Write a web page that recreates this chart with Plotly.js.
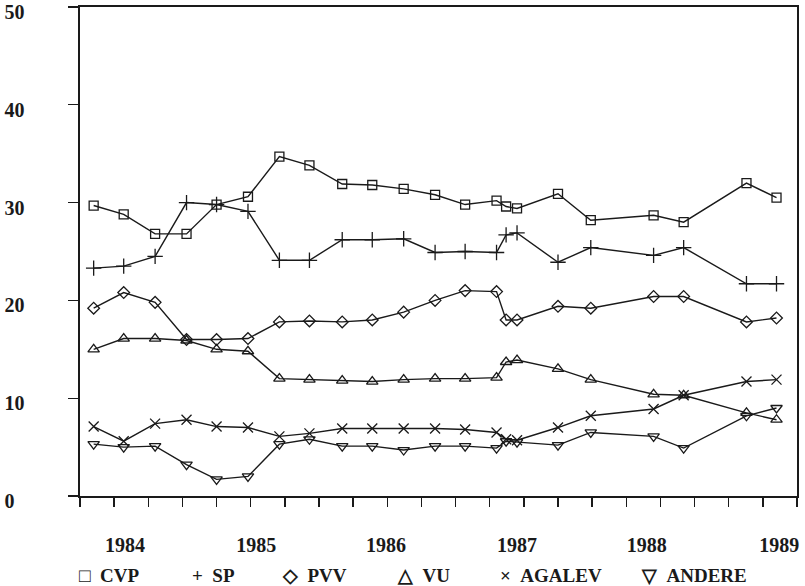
<!DOCTYPE html>
<html>
<head>
<meta charset="utf-8">
<script src="https://cdn.plot.ly/plotly-3.0.1.min.js"></script>
<style>html,body{margin:0;padding:0;background:#fff;}#chart{width:805px;height:586px;}</style>
</head>
<body>
<div id="chart"></div>
<script>
// survey dates (decimal years)
const surveyDates = [1984.10, 1984.32, 1984.55, 1984.78, 1985.00, 1985.23, 1985.46, 1985.68, 1985.92, 1986.14, 1986.37, 1986.60, 1986.82, 1987.05, 1987.12, 1987.20, 1987.50, 1987.74, 1988.20, 1988.42, 1988.88, 1989.10];

const partyNames = ["CVP", "SP", "PVV", "VU", "AGALEV", "ANDERE"];
const legendGlyphs = ["\u25A1", "+", "\u25C7", "\u25B3", "\u00D7", "\u25BD"];

const cvp    = [29.7, 28.8, 26.8, 26.8, 29.8, 30.6, 34.7, 33.8, 31.9, 31.8, 31.4, 30.8, 29.8, 30.2, 29.6, 29.4, 30.9, 28.2, 28.7, 28.0, 32.0, 30.5];
const sp     = [23.3, 23.5, 24.5, 30.0, 29.8, 29.1, 24.1, 24.1, 26.2, 26.2, 26.3, 24.9, 25.0, 24.9, 26.7, 26.9, 23.9, 25.4, 24.6, 25.4, 21.7, 21.7];
const pvv    = [19.2, 20.8, 19.8, 16.0, 16.0, 16.1, 17.8, 17.9, 17.8, 18.0, 18.8, 20.0, 21.0, 20.9, 18.0, 18.0, 19.4, 19.2, 20.4, 20.4, 17.8, 18.2];
const vu     = [15.0, 16.1, 16.1, 15.9, 15.0, 14.8, 12.0, 11.9, 11.8, 11.7, 11.9, 12.0, 12.0, 12.1, 13.7, 13.9, 13.0, 11.9, 10.4, 10.3, 8.5, 7.8];
const agalev = [7.1, 5.6, 7.4, 7.8, 7.1, 7.0, 6.1, 6.4, 6.9, 6.9, 6.9, 6.9, 6.8, 6.5, 5.8, 5.7, 7.0, 8.2, 8.9, 10.3, 11.7, 11.9];
const andere = [5.3, 5.0, 5.1, 3.2, 1.7, 2.0, 5.3, 5.8, 5.1, 5.1, 4.7, 5.1, 5.1, 4.9, 5.6, 5.5, 5.2, 6.5, 6.1, 4.9, 8.2, 9.0];

const yearLabels = ["1984", "1985", "1986", "1987", "1988", "1989"];
const yearLabelPos = [1984.33, 1985.29, 1986.24, 1987.20, 1988.15, 1989.12];
const yTickVals = [0, 10, 20, 30, 40, 50];

const seriesValues = [cvp, sp, pvv, vu, agalev, andere];
const markerSymbols = ["square-open", "cross-thin-open", "diamond-open", "triangle-up-open", "x-thin-open", "triangle-down-open"];
const markerSizes = [9, 11, 9, 10, 10, 10];

const ink = "#1a1a1a";
const serif = "Liberation Serif, Times New Roman, serif";

const traces = seriesValues.map((vals, i) => ({
  type: "scatter",
  mode: "lines+markers",
  name: partyNames[i],
  x: surveyDates,
  y: vals,
  line: {color: ink, width: 1.4},
  marker: {symbol: markerSymbols[i], size: markerSizes[i], color: ink, line: {color: ink, width: 1.3}},
  showlegend: false,
  xaxis: "x",
  yaxis: "y"
}));

// empty carrier trace so the year-label axis is drawn
traces.push({
  type: "scatter", mode: "none",
  x: yearLabelPos, y: yearLabelPos.map(() => null),
  xaxis: "x2", yaxis: "y", showlegend: false, hoverinfo: "skip"
});

const legendX = [-0.004, 0.153, 0.279, 0.439, 0.583, 0.780];
const annotations = partyNames.map((n, i) => ({
  xref: "paper", yref: "paper",
  x: legendX[i], y: -0.1616,
  xanchor: "left", yanchor: "middle",
  text: legendGlyphs[i] + "\u00a0\u00a0" + n,
  showarrow: false,
  font: {family: serif, size: 19, color: ink, weight: "bold"}
}));

const layout = {
  width: 805, height: 586,
  margin: {l: 80, r: 8, t: 7, b: 90},
  paper_bgcolor: "#fff", plot_bgcolor: "#fff",
  showlegend: false,
  xaxis: {
    range: [1984, 1989.25], tick0: 1984, dtick: 0.25,
    ticks: "outside", ticklen: 9, tickwidth: 1.3, tickcolor: ink,
    showticklabels: false, showline: true, linewidth: 1.6, linecolor: ink,
    mirror: true, showgrid: false, zeroline: false
  },
  xaxis2: {
    overlaying: "x", anchor: "y", side: "bottom",
    range: [1984, 1989.25],
    tickmode: "array", tickvals: yearLabelPos, ticktext: yearLabels,
    ticks: "", ticklabelstandoff: 35, ticklabeloverflow: "allow",
    showline: false, showgrid: false, zeroline: false,
    tickfont: {family: serif, size: 20, color: ink, weight: "bold"}
  },
  yaxis: {
    range: [0, 50],
    tickmode: "array", tickvals: yTickVals,
    ticktext: yTickVals.map(v => v === 0 ? "0\u00a0\u00a0" : String(v)),
    ticks: "outside", ticklen: 10, tickwidth: 1.3, tickcolor: ink,
    ticklabelstandoff: 40, ticklabelshift: 5, ticklabeloverflow: "allow",
    showline: true, linewidth: 1.6, linecolor: ink,
    mirror: true, showgrid: false, zeroline: false,
    automargin: false,
    tickfont: {family: serif, size: 20, color: ink, weight: "bold"}
  },
  annotations: annotations
};

Plotly.newPlot("chart", traces, layout, {staticPlot: true, displayModeBar: false});
</script>
</body>
</html>
